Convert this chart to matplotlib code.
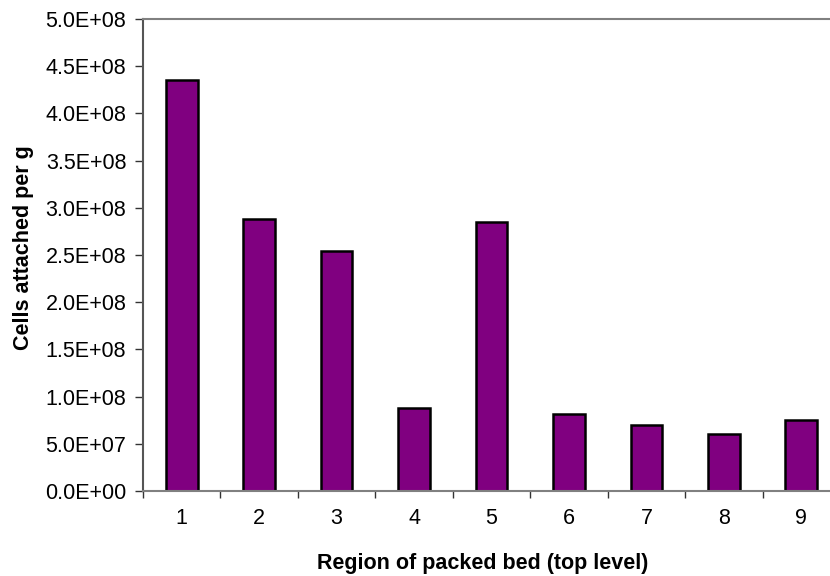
import matplotlib
matplotlib.use("Agg")
import matplotlib.pyplot as plt
from matplotlib.ticker import FuncFormatter

regions = ["1", "2", "3", "4", "5", "6", "7", "8", "9"]
cells_per_g = [4.35e8, 2.88e8, 2.545e8, 0.88e8, 2.85e8, 0.82e8, 0.70e8, 0.60e8, 0.755e8]
y_ticks = [0, 0.5e8, 1.0e8, 1.5e8, 2.0e8, 2.5e8, 3.0e8, 3.5e8, 4.0e8, 4.5e8, 5.0e8]

plt.rcParams['font.family'] = ['Liberation Sans', 'DejaVu Sans']

fig = plt.figure(figsize=(8.3, 5.76), dpi=100)
W, H = 830, 576
left, right, top, bottom = 143, 840, 19, 491
ax = fig.add_axes([left / W, 1 - bottom / H, (right - left) / W, (bottom - top) / H])

x = list(range(len(regions)))
ax.bar(x, cells_per_g, width=0.41, color="#800080", edgecolor="black", linewidth=1.8)

ax.set_xlim(-0.5, len(regions) - 0.5)
ax.set_ylim(0, 5.0e8)
ax.set_yticks(y_ticks)


def sci(v, pos):
    if v == 0:
        return "0.0E+00"
    return f"{v:.1E}"


ax.yaxis.set_major_formatter(FuncFormatter(sci))
ax.set_xticks(x)
ax.set_xticklabels(regions)
ax.set_xticks([i + 0.5 for i in range(-1, len(regions))], minor=True)

ax.tick_params(axis='x', which='major', length=0, pad=12, labelsize=15.5)
ax.tick_params(axis='x', which='minor', length=5, width=1, color="#333333")
ax.tick_params(axis='y', length=6, width=1, pad=6, labelsize=15.5, color="#333333")

for side in ['left', 'bottom', 'top']:
    ax.spines[side].set_color('#808080')
    ax.spines[side].set_linewidth(1.5)
ax.spines['left'].set_color('#555555')
ax.spines['right'].set_visible(False)

fig.text(24 / W, 1 - 248 / H, "Cells attached per g", rotation=90, ha='center', va='center',
         fontsize=15.5, fontweight='bold')
fig.text(483 / W, 1 - 563 / H, "Region of packed bed (top level)", ha='center', va='center',
         fontsize=15.5, fontweight='bold')

fig.savefig("out.png", dpi=100)
